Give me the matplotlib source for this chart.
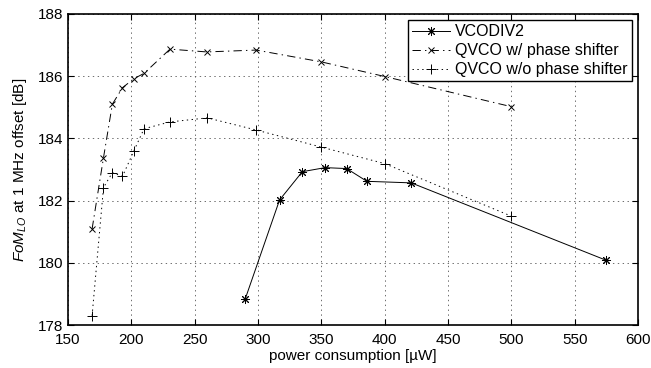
import matplotlib
matplotlib.use("Agg")
import matplotlib.pyplot as plt

plt.rcParams['font.family'] = ['Liberation Sans', 'DejaVu Sans']
plt.rcParams['mathtext.fontset'] = 'custom'
plt.rcParams['mathtext.rm'] = 'Liberation Sans'
plt.rcParams['mathtext.it'] = 'Liberation Sans:italic'
plt.rcParams['lines.scale_dashes'] = False

# --- data ---
vco_x = [290, 317, 335, 353, 370, 386, 421, 575]
vco_y = [178.85, 182.02, 182.93, 183.06, 183.03, 182.62, 182.57, 180.08]

qw_x = [169, 178, 185, 193, 202, 210, 230.5, 259.5, 298.5, 350, 400, 500]
qw_y = [181.09, 183.38, 185.1, 185.63, 185.92, 186.09, 186.87, 186.78, 186.84, 186.46, 185.99, 185.02]

qwo_x = [169, 178, 185, 193, 202, 210, 230.5, 260, 298.5, 350, 400, 500]
qwo_y = [178.3, 182.42, 182.9, 182.78, 183.6, 184.31, 184.53, 184.66, 184.27, 183.72, 183.19, 181.5]

xticks = [150, 200, 250, 300, 350, 400, 450, 500, 550, 600]
yticks = [178, 180, 182, 184, 186, 188]

fig = plt.figure(figsize=(6.51, 3.68), dpi=100)
ax = fig.add_axes([0.1045, 0.1168, 0.8755, 0.8452])

ax.plot(vco_x, vco_y, '-', color='black', lw=0.7, marker=(8, 2, 0), ms=6.5, mew=0.7,
        label='VCODIV2')
ax.plot(qw_x, qw_y, color='black', lw=0.7, dashes=(6, 3, 1, 3), marker='x', ms=4.5, mew=0.7,
        label='QVCO w/ phase shifter')
ax.plot(qwo_x, qwo_y, color='black', lw=0.7, dashes=(1, 2.5), marker='+', ms=6.5, mew=0.7,
        label='QVCO w/o phase shifter')

ax.set_xlim(150, 600)
ax.set_ylim(178, 188)
ax.set_xticks(xticks)
ax.set_yticks(yticks)
ax.grid(True, color='#555555', lw=0.6, dashes=(1, 2.5))
ax.tick_params(direction='in', top=True, right=True, labelsize=11, length=4, width=0.8)
ax.tick_params(axis='x', pad=6)
for s in ax.spines.values():
    s.set_linewidth(1.2)

ax.set_xlabel('power consumption [\u00b5W]', fontsize=11, labelpad=1)
ax.set_ylabel(r'$\it{FoM}_{LO}$ at 1 MHz offset [dB]', fontsize=11, labelpad=6)

leg = ax.legend(loc='upper right', fontsize=11.5, fancybox=False, framealpha=1,
                edgecolor='black', borderaxespad=0.4, handlelength=2.4,
                borderpad=0.25, labelspacing=0.25, handletextpad=0.3)
leg.get_frame().set_linewidth(1.0)

fig.savefig('out.png', dpi=100)
